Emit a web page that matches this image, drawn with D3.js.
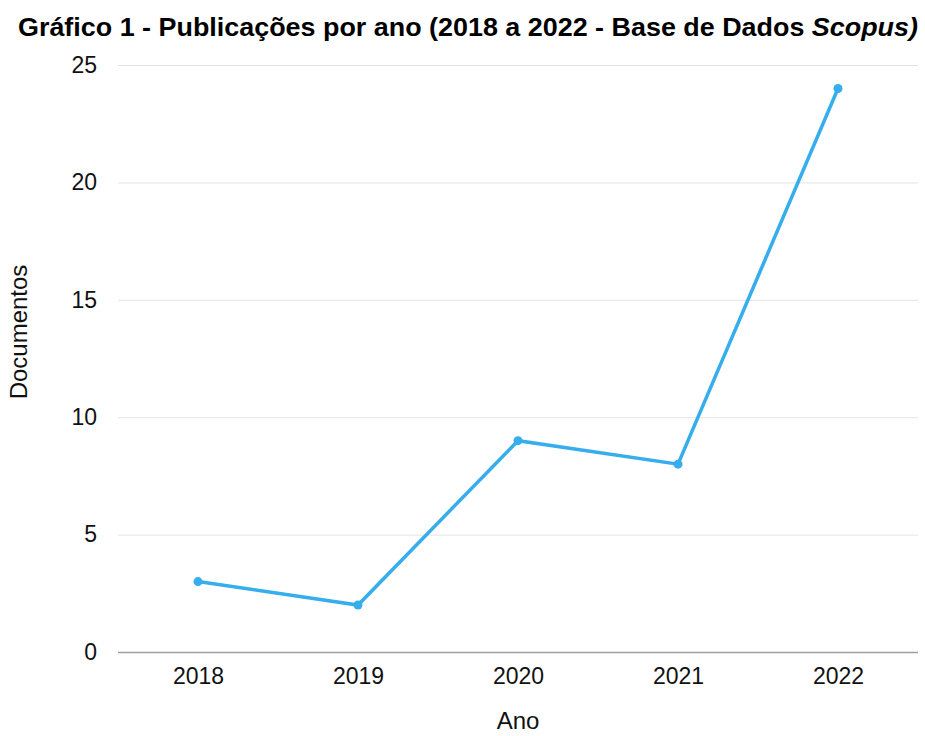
<!DOCTYPE html>
<html>
<head>
<meta charset="utf-8">
<script src="https://cdn.jsdelivr.net/npm/d3@7"></script>
<style>
  body { margin: 0; background: #fff; }
  text { font-family: "Liberation Sans", Arial, sans-serif; }
</style>
</head>
<body>
<svg id="chart"></svg>
<script>
var years = ['2018', '2019', '2020', '2021', '2022'];
var documentos = [3, 2, 9, 8, 24];
var yTicks = [0, 5, 10, 15, 20, 25];

var W = 925, H = 736;
var margins = {top: 65, bottom: 84, left: 118, right: 7};
var width = W - margins.left - margins.right;
var height = H - margins.top - margins.bottom;

var svg = d3.select('#chart').attr('width', W).attr('height', H);

svg.append('text')
  .attr('x', 18)
  .attr('y', 36)
  .attr('textLength', 900)
  .attr('lengthAdjust', 'spacingAndGlyphs')
  .style('font-family', '"Liberation Sans Narrow", "Liberation Sans", Arial, sans-serif')
  .style('font-weight', 'bold')
  .style('font-size', '26px')
  .style('fill', '#000')
  .text('Gráfico 1 - Publicações por ano (2018 a 2022 - Base de Dados ')
  .append('tspan')
  .style('font-style', 'italic')
  .text('Scopus)');

var g = svg.append('g')
  .attr('transform', `translate(${margins.left}, ${margins.top})`);

var xScale = d3.scalePoint().domain(years).range([0, width]).padding(0.5);
var yScale = d3.scaleLinear().domain([0, 25]).range([height, 0]);

// gridlines
g.append('g')
  .call(d3.axisLeft(yScale).tickValues(yTicks).tickSize(-width).tickFormat(''))
  .call(a => a.select('.domain').remove())
  .call(a => a.selectAll('line').style('stroke', d => d === 0 ? '#9e9e9e' : '#e3e3e3').style('stroke-width', d => d === 0 ? 1.5 : 1));

// y labels
g.append('g')
  .call(d3.axisLeft(yScale).tickValues(yTicks).tickSize(0).tickPadding(21))
  .call(a => a.select('.domain').remove())
  .call(a => a.selectAll('text').style('font-size', '23px').style('fill', '#111').style('font-family', '"Liberation Sans", Arial, sans-serif'));

// x labels
g.append('g')
  .attr('transform', `translate(0, ${height})`)
  .call(d3.axisBottom(xScale).tickSize(0).tickPadding(16))
  .call(a => a.select('.domain').remove())
  .call(a => a.selectAll('text').style('font-size', '23px').style('fill', '#111').style('font-family', '"Liberation Sans", Arial, sans-serif'));

var line = d3.line()
  .x((d, i) => xScale(years[i]))
  .y(d => yScale(d));

g.append('path')
  .datum(documentos)
  .attr('d', line)
  .style('fill', 'none')
  .style('stroke', '#36adec')
  .style('stroke-width', 3.5);

g.selectAll('circle')
  .data(documentos)
  .enter()
  .append('circle')
  .attr('cx', (d, i) => xScale(years[i]))
  .attr('cy', d => yScale(d))
  .attr('r', 4.5)
  .style('fill', '#36adec');

svg.append('text')
  .attr('x', margins.left + width / 2)
  .attr('y', 729)
  .attr('text-anchor', 'middle')
  .style('font-size', '24px')
  .style('fill', '#111')
  .text('Ano');

svg.append('text')
  .attr('transform', `translate(27, 332) rotate(-90)`)
  .attr('text-anchor', 'middle')
  .style('font-size', '24px')
  .style('fill', '#111')
  .text('Documentos');
</script>
</body>
</html>
